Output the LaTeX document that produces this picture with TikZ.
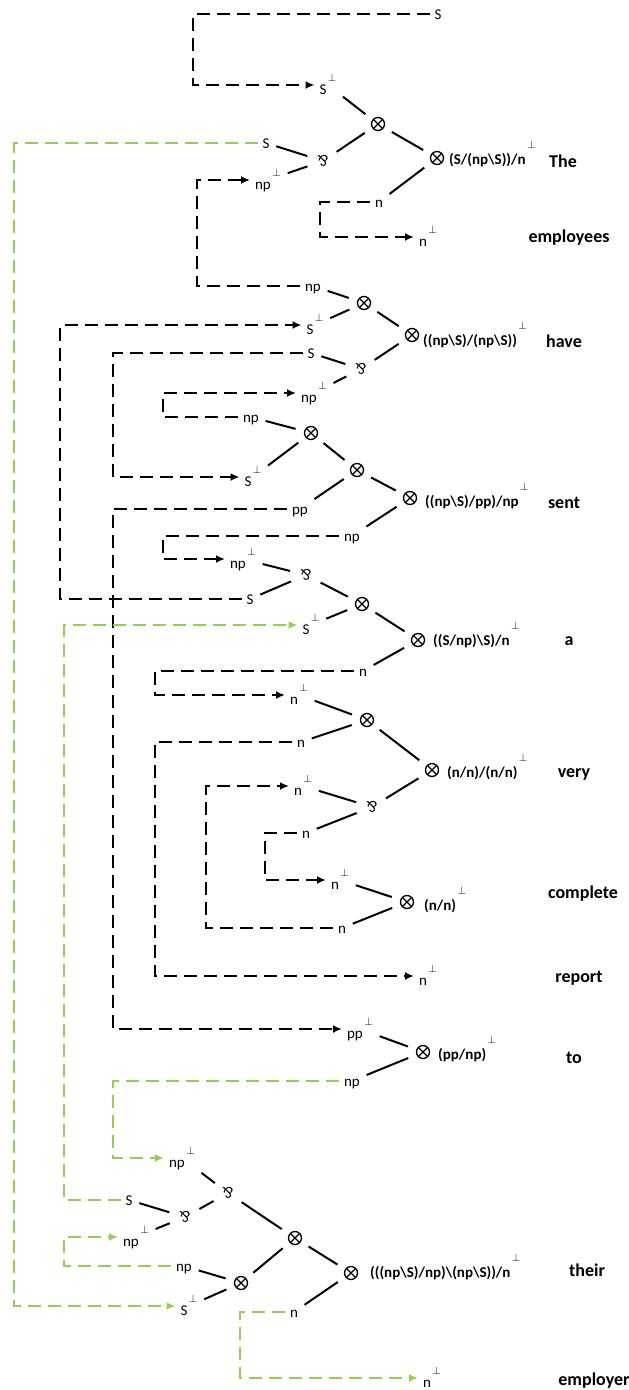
\documentclass[tikz,border=0pt]{standalone}
\usepackage{fontspec}
\setmainfont{Carlito}
\usetikzlibrary{arrows.meta}
\definecolor{Leaf}{HTML}{92D050}
\newcommand{\lperp}[1][13.5pt]{\kern1.5pt\raisebox{#1}{\fontsize{11}{11}\selectfont$\perp$}}
\tikzset{
  atom/.style={font=\fontsize{15}{18}\selectfont,anchor=west,inner xsep=2pt,inner ysep=0pt,text height=12pt,text depth=2pt,outer sep=3pt},
  dual/.style={atom,text height=21pt},
  tens/.style={circle,draw,line width=1.3pt,minimum size=13pt,inner sep=0pt,outer sep=7.5pt,
    path picture={\draw[line width=1.3pt] (path picture bounding box.north west) -- (path picture bounding box.south east)
      (path picture bounding box.north east) -- (path picture bounding box.south west);}},
  parr/.style={circle,inner sep=.5pt,outer sep=6pt,font=\fontsize{16}{16}\selectfont},
  formula/.style={font=\bfseries\fontsize{15}{18}\selectfont,anchor=base west,inner sep=0pt},
  word/.style={font=\bfseries\fontsize{18}{20}\selectfont,anchor=base,inner sep=0pt},
  edge/.style={draw=black,line width=2pt,shorten <=2pt,shorten >=2pt},
  link/.style={-{Latex[length=9pt,width=8pt]},draw=black,line width=2pt,dash pattern=on 13pt off 7pt},
  glink/.style={link,draw=Leaf}
}
\newcommand{\parsym}{\rotatebox[origin=c]{180}{\&}}

\begin{document}
\begin{tikzpicture}[x=1pt,y=-1pt]
  \useasboundingbox (0,0) rectangle (629,1390);
  % rails of the axiom links
  \coordinate (railA) at (193,0);
  \coordinate (railB) at (197,0);
  \coordinate (railC) at (320,0);
  \coordinate (railD) at (60,0);
  \coordinate (railE) at (113,0);
  \coordinate (railF) at (163,0);
  \coordinate (railG) at (155,0);
  \coordinate (railH) at (206,0);
  \coordinate (railI) at (265,0);
  \coordinate (railJ) at (14,0);
  \coordinate (railK) at (64,0);
  \coordinate (railL) at (240,0);

  % The
  \node[atom] (tS) at (429.5,14) {S};
  \node[dual] (tSd) at (314.5,85) {S\lperp};
  \node[atom] (tSg) at (257.5,143) {S};
  \node[dual] (tnpd) at (250,180) {np\lperp};
  \node[atom] (tn) at (370,202) {n};
  \node[dual] (tnd) at (414,237) {n\lperp};
  \node[tens] (ot1) at (378,124) {};
  \node[parr] (pt1) at (323,161) {\parsym};
  \node[tens] (ot2) at (437,158) {};
  \node[formula] (ft) at (449,164) {(S/(np\textbackslash S))/n\lperp[16pt]};
  \node[word] (wThe) at (563,167) {The};
  \node[word] (wEmp) at (569,242) {employees};
  \draw[edge] (tSd) -- (ot1);
  \draw[edge] (pt1) -- (ot1);
  \draw[edge] (tSg) -- (pt1);
  \draw[edge] (tnpd) -- (pt1);
  \draw[edge] (ot1) -- (ot2);
  \draw[edge] (tn) -- (ot2);

  % have
  \node[atom] (hnp) at (300,286) {np};
  \node[dual] (hSd) at (301.5,325) {S\lperp};
  \node[atom] (hS) at (302.5,353) {S};
  \node[dual] (hnpd) at (296,393) {np\lperp};
  \node[tens] (oh1) at (364,303) {};
  \node[tens] (oh2) at (412,335) {};
  \node[parr] (ph) at (361,369) {\parsym};
  \node[formula] (fh) at (423,345) {((np\textbackslash S)/(np\textbackslash S))\lperp[16pt]};
  \node[word] (wHave) at (564,347) {have};
  \draw[edge] (hnp) -- (oh1);
  \draw[edge] (hSd) -- (oh1);
  \draw[edge] (oh1) -- (oh2);
  \draw[edge] (ph) -- (oh2);
  \draw[edge] (hS) -- (ph);
  \draw[edge] (hnpd) -- (ph);

  % sent
  \node[atom] (snp) at (238,417) {np};
  \node[dual] (sSd) at (239.5,477) {S\lperp};
  \node[atom] (spp) at (287,509) {pp};
  \node[atom] (snp2) at (339,536) {np};
  \node[tens] (os1) at (311,433) {};
  \node[tens] (os2) at (357,470) {};
  \node[tens] (os3) at (410,498) {};
  \node[formula] (fs) at (425,506) {((np\textbackslash S)/pp)/np\lperp[16pt]};
  \node[word] (wSent) at (564,508) {sent};
  \draw[edge] (snp) -- (os1);
  \draw[edge] (sSd) -- (os1);
  \draw[edge] (os1) -- (os2);
  \draw[edge] (spp) -- (os2);
  \draw[edge] (os2) -- (os3);
  \draw[edge] (snp2) -- (os3);

  % a
  \node[dual] (anpd) at (225,559) {np\lperp};
  \node[atom] (aS) at (241.5,599) {S};
  \node[dual] (aSd) at (297.5,625) {S\lperp};
  \node[atom] (an) at (354,671) {n};
  \node[parr] (pa) at (306,575) {\parsym};
  \node[tens] (oa1) at (362,604) {};
  \node[tens] (oa2) at (418,640) {};
  \node[formula] (fa) at (433,645) {((S/np)\textbackslash S)/n\lperp[16pt]};
  \node[word] (wA) at (569,645) {a};
  \draw[edge] (anpd) -- (pa);
  \draw[edge] (aS) -- (pa);
  \draw[edge] (pa) -- (oa1);
  \draw[edge] (aSd) -- (oa1);
  \draw[edge] (oa1) -- (oa2);
  \draw[edge] (an) -- (oa2);

  % very
  \node[dual] (vnd) at (285,695) {n\lperp};
  \node[atom] (vn) at (292,742) {n};
  \node[dual] (vnd2) at (289,786) {n\lperp};
  \node[atom] (vn2) at (297,833) {n};
  \node[tens] (ov1) at (367,720) {};
  \node[tens] (ov2) at (432,770) {};
  \node[parr] (pv) at (372,807) {\parsym};
  \node[formula] (fv) at (447,777) {(n/n)/(n/n)\lperp[16pt]};
  \node[word] (wVery) at (574,777) {very};
  \draw[edge] (vnd) -- (ov1);
  \draw[edge] (vn) -- (ov1);
  \draw[edge] (ov1) -- (ov2);
  \draw[edge] (pv) -- (ov2);
  \draw[edge] (vnd2) -- (pv);
  \draw[edge] (vn2) -- (pv);

  % complete
  \node[dual] (cnd) at (326,880) {n\lperp};
  \node[atom] (cn) at (333,928) {n};
  \node[tens] (oc) at (407,902) {};
  \node[formula] (fc) at (424,910) {(n/n)\lperp[16pt]};
  \node[word] (wComp) at (583,898) {complete};
  \draw[edge] (cnd) -- (oc);
  \draw[edge] (cn) -- (oc);

  % report
  \node[dual] (rnd) at (414,976) {n\lperp};
  \node[word] (wRep) at (579,982) {report};

  % to
  \node[dual] (tppd) at (342,1029) {pp\lperp};
  \node[atom] (tnp) at (339,1081) {np};
  \node[tens] (oto) at (423,1052) {};
  \node[formula] (fto) at (438,1059) {(pp/np)\lperp[16pt]};
  \node[word] (wTo) at (574,1063) {to};
  \draw[edge] (tppd) -- (oto);
  \draw[edge] (tnp) -- (oto);

  % their
  \node[dual] (enpd) at (164,1158) {np\lperp};
  \node[atom] (eS) at (120.5,1200) {S};
  \node[dual] (enpd2) at (118,1237) {np\lperp};
  \node[atom] (enp) at (171,1266) {np};
  \node[dual] (eSd) at (175.5,1306) {S\lperp};
  \node[atom] (en) at (285,1312) {n};
  \node[parr] (pe1) at (228,1193) {\parsym};
  \node[parr] (pe2) at (185,1217) {\parsym};
  \node[tens] (oe1) at (295,1238) {};
  \node[tens] (oe2) at (241,1283) {};
  \node[tens] (oe3) at (351,1273) {};
  \node[formula] (fe) at (370,1277) {(((np\textbackslash S)/np)\textbackslash(np\textbackslash S))/n\lperp[16pt]};
  \node[word] (wTheir) at (587,1276) {their};
  \draw[edge] (enpd) -- (pe1);
  \draw[edge] (pe2) -- (pe1);
  \draw[edge] (eS) -- (pe2);
  \draw[edge] (enpd2) -- (pe2);
  \draw[edge] (pe1) -- (oe1);
  \draw[edge] (oe2) -- (oe1);
  \draw[edge] (enp) -- (oe2);
  \draw[edge] (eSd) -- (oe2);
  \draw[edge] (oe1) -- (oe3);
  \draw[edge] (en) -- (oe3);

  % employer
  \node[dual] (mnd) at (418,1378) {n\lperp};
  \node[word] (wEmpl) at (594,1385) {employer};

  % axiom links
  \draw[link] (tS.west) -- (tS.west -| railA) |- (tSd.west);
  \draw[link] (hnp.west) -- (hnp.west -| railB) |- (tnpd.west);
  \draw[link] (tn.west) -- (tn.west -| railC) |- (tnd.west);
  \draw[link] (aS.west) -- (aS.west -| railD) |- (hSd.west);
  \draw[link] (hS.west) -- (hS.west -| railE) |- (sSd.west);
  \draw[link] (snp.west) -- (snp.west -| railF) |- (hnpd.west);
  \draw[link] (spp.west) -- (spp.west -| railE) |- (tppd.west);
  \draw[link] (snp2.west) -- (snp2.west -| railF) |- (anpd.west);
  \draw[link] (an.west) -- (an.west -| railG) |- (vnd.west);
  \draw[link] (vn.west) -- (vn.west -| railG) |- (rnd.west);
  \draw[link] (cn.west) -- (cn.west -| railH) |- (vnd2.west);
  \draw[link] (vn2.west) -- (vn2.west -| railI) |- (cnd.west);
  \draw[glink] (tSg.west) -- (tSg.west -| railJ) |- (eSd.west);
  \draw[glink] (eS.west) -- (eS.west -| railK) |- (aSd.west);
  \draw[glink] (tnp.west) -- (tnp.west -| railE) |- (enpd.west);
  \draw[glink] (enp.west) -- (enp.west -| railK) |- (enpd2.west);
  \draw[glink] (en.west) -- (en.west -| railL) |- (mnd.west);
\end{tikzpicture}
\end{document}
